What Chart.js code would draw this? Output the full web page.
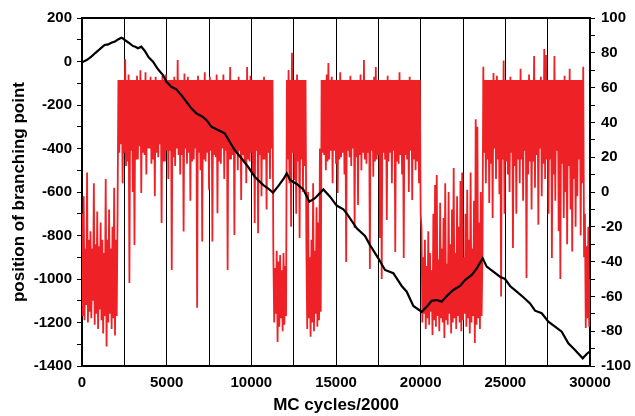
<!DOCTYPE html>
<html>
<head>
<meta charset="utf-8">
<script src="https://cdn.jsdelivr.net/npm/chart.js@4.4.1/dist/chart.umd.min.js"></script>
<style>
  html, body { margin: 0; padding: 0; background: #fff; }
  canvas { display: block; }
</style>
</head>
<body>
<canvas id="chart" width="635" height="416"></canvas>
<script>
// trace sampled every 50 MC cycles/2000
const sampleStep = 50;

// position of branching point, one array per regime
const lowStart = [
  -700, -1170, -620, -1190, -860, -1120, -510, -1200, -820, -1150,
  -780, -1180, -860, -1100, -560, -1210, -840, -1160, -690, -1230,
  -850, -1140, -740, -1190, -820, -1250, -880, -1170, -540, -1310,
  -820, -1200, -680, -1160, -860, -1230, -760, -1180, -580, -1260,
  -820, -1170, -700
];
const highBand1 = [
  -85, -420, -85, -380, -85, -560, -85, -420, 10, -480,
  -85, -460, -60, -1018, -85, -410, -85, -600, -85, -844,
  -85, -450, -65, -450, -85, -390, -40, -605, -85, -420,
  -85, -430, -50, -520, -85, -400, -85, -400, -70, -470,
  -85, -450, -85, -620, -70, -420, -85, -440, -85, -380,
  -85, -743, -65, -460, -85, -460, -60, -410, -85, -540,
  -85, -410, -85, -959, -85, -440, -70, -480, -85, -400,
  7, -430, -85, -520, -85, -430, -85, -782, -55, -400,
  -85, -470, -70, -420, -85, -640, -85, -460, -85, -450,
  -85, -400, -85, -1132, -65, -420, -85, -500, -85, -828,
  -85, -450, -50, -460, -85, -420, -85, -590, -70, -410,
  -85, -828, -85, -430, -85, -440, -60, -698, -85, -460,
  -85, -470, -85, -400, -60, -540, -85, -410, -85, -959,
  -85, -450, -25, -450, -85, -430, -85, -798, -85, -420,
  -85, -500, -70, -410, -85, -637, -85, -430, -85, -460,
  -85, -560, -25, -450, -85, -460, -65, -420, -85, -520,
  -85, -743, -85, -410, -85, -790, -85, -430, -85, -620,
  -85, -450, -70, -450, -85, -680, -85, -420, -85, -540,
  -85, -400, -85
];
const lowBlock1 = [
  -880, -1200, -950, -1160, -870, -1290, -920, -1220, -890, -1180,
  -960, -1240, -880, -1210, -940, -1170
];
const highBand2 = [
  -85, -450, -39, -560, -85, -760, 40, -420, -85, -545,
  -85, -700, -60, -460, -85, -811, -85, -450, -85, -600,
  -85, -480, -85
];
const lowBlock2 = [
  -840, -1230, -600, -1180, -900, -1266, -820, -1200, -560, -1240,
  -870, -1160, -670, -1220, -740, -1190, -400, -1150
];
const highBand3 = [
  -85, -420, -85, -430, -85, -500, -60, -460, -7, -450,
  -85, -410, -70, -560, -85, -410, -85, -470, -85, -605,
  -85, -450, -50, -440, -85, -420, -85, -520, -85, -922,
  -85, -410, -85, -440, -65, -480, -85, -400, -85, -765,
  -85, -440, -85, -660, -85, -430, -60, -500, -85, -420,
  7, -450, -85, -470, -85, -420, -85, -954, -85, -410,
  -85, -530, -70, -460, -25, -450, -85, -430, -85, -811,
  -85, -1000, -85, -420, -85, -450, -85, -729, -65, -460,
  -85, -420, -85, -560, -85, -410, -85, -876, -85, -460,
  -85, -470, -50, -430, -85, -520, -85, -903, -85, -430,
  -85, -450, -85, -600, -70, -410, -85, -637, -85, -450,
  -85, -500, -85, -460, -85, -560, -85, -700
];
const lowBlock3 = [
  -765, -1200, -900, -1160, -820, -1230, -940, -1180, -780, -1210,
  -880, -1150, -960, -1258, -700, -1190, -568, -1220, -522, -1170,
  -910, -1240, -650, -1180, -860, -1200, -720, -1271, -560, -1190,
  -930, -1210, -600, -1160, -840, -1250, -680, -1200, -490, -1180,
  -880, -1230, -620, -1170, -760, -1200, -550, -1240, -510, -1190,
  -900, -1160, -700, -1220, -590, -1180, -820, -1250, -510, -1200,
  -860, -1170, -640, -1294, -265, -1210, -300, -1180, -740, -1230,
  -600, -1170, -880
];
const highBand4 = [
  -24, -420, -85, -560, -85, -450, -85, -650, -85, -470,
  -85, -720, -53, -400, -85, -540, -65, -450, -85, -610,
  -85, -1081, -85, -450, 5, -700, -85, -460, -85, -520,
  -85, -600, -70, -420, -85, -857, -85, -480, -85, -700,
  -85, -450, -85, -560, -33, -450, -85, -640, -85, -410,
  -85, -995, -85, -520, -60, -460, -85, -680, -85, -460,
  25, -580, -85, -430, -85, -750, -85, -400, -70, -620,
  -85, -470, 57, -540, 30, -450, -85, -700, -85, -450,
  -85, -903, -85, -520, 25, -640, -85, -410, -85, -780,
  -85, -1000, -85, -470, -85, -720, -65, -600, -85, -840,
  -85, -480, -33, -680, -85, -874, -85, -540, -85, -760,
  -85, -620, -85, -450, -85, -800, -85, -560, -24, -900
];
const lowEnd = [-700, -1225, -850, -1180, -760, -1220, -1000];

// first x of each regime
const regimes = [
  [0, lowStart], [2150, highBand1], [11300, lowBlock1], [12100, highBand2],
  [13250, lowBlock2], [14150, highBand3], [20050, lowBlock3], [23700, highBand4],
  [29700, lowEnd]
];

// black curve, right axis
const energyX = [0, 300, 550, 800, 945, 1150, 1340, 1550, 1730, 1950, 2126, 2323, 2420, 2520, 2650,
  2815, 3012, 3150, 3307, 3504, 3700, 3937, 4193, 4489, 4784, 4980, 5276, 5571, 5866, 6161, 6456,
  6751, 7048, 7343, 7638, 8032, 8427, 8722, 9018, 9412, 9806, 10200, 10710, 11000, 11280, 11600,
  11900, 12090, 12285, 12680, 13070, 13426, 13761, 14253, 14647, 15040, 15434, 15630, 16224, 16714,
  17010, 17500, 17895, 18386, 18880, 19176, 19568, 20060, 20355, 20650, 20950, 21240, 21540, 21930,
  22325, 22620, 23016, 23311, 23665, 23900, 24290, 24687, 24983, 25278, 25672, 26064, 26460, 26754,
  27150, 27540, 27936, 28330, 28720, 29115, 29570, 29806, 29960];
const energyY = [74.5, 76, 77.8, 80, 81.2, 83, 84.5, 84.8, 85.8, 86.5, 87.7, 88.7, 88.2, 87.4, 86.5,
  85.4, 83.9, 83.5, 82.6, 83.5, 81.2, 77.4, 74.9, 70.5, 67.2, 63.4, 60.5, 59, 55.7, 51.9, 48.1,
  45.2, 43.7, 41.4, 37.5, 35.6, 33.7, 28.9, 24.1, 19.4, 14.5, 8.8, 4, 2, -0.4, 3.5,
  7.5, 10.7, 6.9, 4.6, 1.5, -5.6, -3.6, 1.5, -2.7, -7.8, -10, -12.3, -20.9, -25.3,
  -30.5, -38.1, -44.8, -46.7, -54, -57.3, -65.5, -68.8, -66, -62.5, -62.1, -63, -59.8, -56.3,
  -54, -50.6, -47.7, -43.9, -38.1, -42.9, -45.8, -48.7, -50, -54, -57.3, -60.5, -64, -68.2,
  -69.7, -74.5, -77.4, -80.3, -87, -90.8, -95.6, -93.1, -91.8];

const branchPoints = [];
regimes.forEach(([start, vals]) => {
  vals.forEach((v, i) => branchPoints.push({ x: start + i * sampleStep, y: v }));
});
const energyPoints = energyX.map((x, i) => ({ x: x, y: energyY[i] }));

const tickFont = { family: 'Liberation Sans, Arial, sans-serif', size: 15, weight: 'bold' };
const titleFont = { family: 'Liberation Sans, Arial, sans-serif', size: 17, weight: 'bold' };

// top edge of the frame
const frameTop = {
  id: 'frameTop',
  afterDraw(chart) {
    const { ctx, chartArea } = chart;
    ctx.save();
    ctx.strokeStyle = '#000';
    ctx.lineWidth = 2;
    ctx.beginPath();
    ctx.moveTo(chartArea.left - 1, chartArea.top);
    ctx.lineTo(chartArea.right + 1, chartArea.top);
    ctx.stroke();
    ctx.restore();
  }
};

new Chart(document.getElementById('chart'), {
  type: 'line',
  data: {
    datasets: [
      {
        data: energyPoints,
        yAxisID: 'y2',
        borderColor: '#000',
        borderWidth: 2.2,
        pointRadius: 0,
        order: 0
      },
      {
        data: branchPoints,
        yAxisID: 'y',
        borderColor: '#ee2226',
        borderWidth: 1.8,
        borderJoinStyle: 'bevel',
        // a solid "dash" keeps every sample in the path (no per-pixel fast path)
        borderDash: [1000, 0],
        pointRadius: 0,
        order: 1
      }
    ]
  },
  options: {
    responsive: false,
    animation: false,
    devicePixelRatio: 1,
    layout: { padding: { top: 18, right: 0, left: 0, bottom: 0 } },
    plugins: { legend: { display: false }, tooltip: { enabled: false } },
    scales: {
      x: {
        type: 'linear',
        min: 0,
        max: 30000,
        afterFit: (s) => { s.height = 50; },
        ticks: {
          stepSize: 2500,
          autoSkip: false,
          maxRotation: 0,
          padding: 8,
          color: '#000',
          font: tickFont,
          callback: (v) => (v % 5000 === 0 ? String(v) : '')
        },
        grid: { color: '#000', lineWidth: 1, drawTicks: false },
        border: { color: '#000', width: 2 },
        title: { display: true, text: 'MC cycles/2000', color: '#000', font: titleFont, padding: { top: 0, bottom: 0 } }
      },
      y: {
        position: 'left',
        min: -1400,
        max: 200,
        afterFit: (s) => { s.width = 82; },
        ticks: {
          stepSize: 100,
          autoSkip: false,
          padding: 5,
          color: '#000',
          font: tickFont,
          callback: (v) => (v % 200 === 0 ? String(v) : '')
        },
        grid: { drawOnChartArea: false, color: '#000', tickLength: 5 },
        border: { color: '#000', width: 2 },
        title: { display: true, text: 'position of branching point', color: '#000', font: titleFont, padding: { top: 9, bottom: 0 } }
      },
      y2: {
        position: 'right',
        min: -100,
        max: 100,
        afterFit: (s) => { s.width = 45; },
        ticks: {
          stepSize: 10,
          autoSkip: false,
          padding: 6,
          color: '#000',
          font: tickFont,
          callback: (v) => (v % 20 === 0 ? String(v) : '')
        },
        grid: { drawOnChartArea: false, color: '#000', tickLength: 5 },
        border: { color: '#000', width: 2 }
      }
    }
  },
  plugins: [frameTop]
});
</script>
</body>
</html>
